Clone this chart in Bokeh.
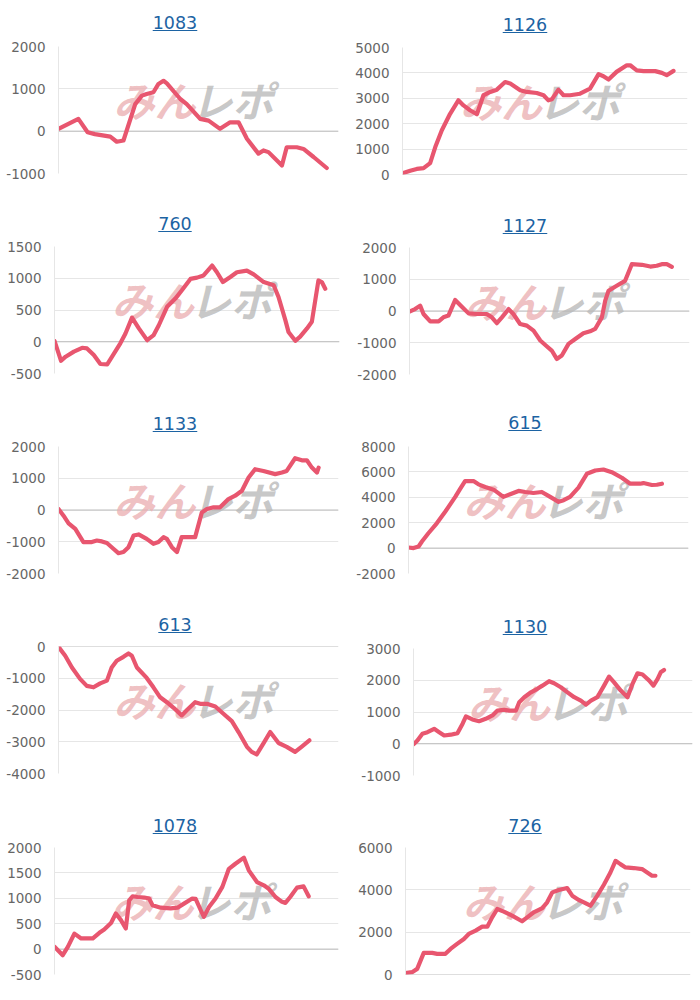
from bokeh.plotting import figure
from bokeh.layouts import column, row
from bokeh.models import Div, Range1d, FixedTicker, Span
from bokeh.core.properties import value
from bokeh.embed import file_html
from bokeh.resources import INLINE

# ---------------- data ----------------
titles = ["1083", "1126", "760", "1127", "1133", "615", "613", "1130", "1078", "726"]

x_1083 = [0, 7.1, 10.4, 13.0, 18.5, 20.8, 23.2, 27.4, 29.8, 31.5, 33.9, 35.7, 37.5, 38.7, 43.5, 45.8,
          50.6, 53.6, 57.7, 61.3, 64.3, 67.3, 71.4, 73.2, 75.0, 79.8, 81.5, 85.1, 87.5, 91.1, 95.8]
y_1083 = [55, 290, -25, -70, -130, -250, -220, 640, 840, 880, 920, 1115, 1190, 1130, 760, 640,
          290, 250, 55, 210, 210, -180, -530, -455, -495, -810, -380, -380, -420, -610, -870]
ticks_1083 = [-1000, 0, 1000, 2000]

x_1126 = [0, 2.7, 5.0, 7.4, 9.7, 11.5, 13.8, 16.7, 19.6, 21.4, 23.7, 26.1, 28.4, 30.8, 33.1, 36.0,
          37.8, 41.3, 43.6, 47.1, 49.5, 51.2, 52.4, 54.7, 56.5, 58.8, 62.3, 65.8, 68.8, 70.5, 72.3,
          75.1, 78.7, 79.9, 82.2, 84.6, 88.7, 91.0, 92.7, 95.1]
y_1126 = [50, 150, 220, 250, 450, 1080, 1740, 2390, 2920, 2720, 2530, 2370, 3120, 3250, 3340, 3640,
          3580, 3320, 3250, 3210, 3120, 2920, 2960, 3340, 3120, 3120, 3180, 3380, 3950, 3870, 3740,
          4040, 4300, 4300, 4100, 4070, 4070, 4000, 3910, 4080]
ticks_1126 = [0, 1000, 2000, 3000, 4000, 5000]

x_760 = [0, 2.3, 3.9, 6.8, 9.7, 11.4, 13.8, 16.1, 18.5, 20.2, 23.1, 24.9, 27.2, 29.6, 32.5, 34.8,
         36.6, 39.5, 42.4, 44.7, 47.7, 50.0, 52.3, 55.3, 57.0, 59.1, 61.7, 64.0, 67.5, 69.9, 73.4,
         76.9, 78.6, 81.0, 82.1, 84.5, 86.2, 88.6, 90.3, 92.6, 93.8, 95.0]
y_760 = [15, -300, -235, -155, -95, -105, -210, -350, -355, -235, -25, 130, 380, 210, 25, 105,
         260, 550, 680, 810, 990, 1010, 1045, 1200, 1095, 940, 1020, 1095, 1120, 1060, 940,
         890, 705, 340, 155, 15, 80, 210, 315, 965, 940, 835]
ticks_760 = [-500, 0, 500, 1000, 1500]

x_1127 = [0, 2.0, 3.8, 5.0, 7.4, 10.4, 12.1, 13.9, 16.3, 18.7, 21.1, 24.0, 27.6, 29.4, 31.2, 33.0,
          35.4, 37.1, 39.5, 41.9, 44.3, 46.7, 49.0, 50.8, 52.6, 54.4, 56.8, 59.2, 62.1, 64.5, 66.3,
          68.7, 69.9, 71.1, 74.0, 77.0, 79.4, 83.0, 86.0, 88.3, 90.1, 91.9, 93.7]
y_1127 = [-20, 60, 170, -95, -325, -325, -200, -145, 345, 135, -75, -95, -95, -200, -385, -200,
          60, -95, -410, -460, -620, -930, -1110, -1245, -1510, -1400, -1035, -880, -700, -640, -565,
          -200, 325, 640, 795, 950, 1475, 1455, 1400, 1425, 1475, 1475, 1390]
ticks_1127 = [-2000, -1000, 0, 1000, 2000]

x_1133 = [0, 1.8, 3.6, 6.0, 8.9, 11.9, 13.7, 15.5, 17.3, 19.6, 21.4, 23.2, 25.0, 26.8, 28.6, 31.5,
          33.9, 35.7, 37.5, 38.7, 40.5, 42.3, 44.0, 47.0, 48.8, 51.2, 53.0, 55.4, 57.7, 60.7, 63.1,
          65.5, 67.9, 70.2, 73.2, 77.4, 79.8, 81.5, 84.5, 86.9, 88.7, 90.5, 92.3, 92.9]
y_1133 = [30, -180, -420, -595, -1010, -1010, -960, -990, -1040, -1220, -1360, -1325, -1170, -805, -770, -910,
          -1065, -1010, -855, -910, -1170, -1325, -855, -855, -855, -75, 30, 85, 85, 345, 450,
          605, 1025, 1285, 1230, 1130, 1180, 1230, 1630, 1565, 1565, 1335, 1180, 1335]
ticks_1133 = [-2000, -1000, 0, 1000, 2000]

x_615 = [0, 1.8, 3.6, 4.8, 7.1, 10.1, 13.1, 16.7, 18.5, 20.2, 23.2, 25.0, 27.4, 30.4, 33.9, 36.3,
         39.3, 41.7, 44.6, 47.6, 50.6, 53.6, 55.4, 57.7, 60.7, 63.7, 66.7, 69.6, 72.6, 76.2, 79.2,
         82.7, 83.9, 86.9, 88.7, 90.5]
y_615 = [50, 0, 130, 520, 1170, 1950, 2860, 4030, 4680, 5280, 5280, 5020, 4810, 4600, 4030, 4240,
         4500, 4420, 4340, 4420, 4030, 3640, 3770, 4030, 4760, 5850, 6110, 6190, 5980, 5540, 5070,
         5070, 5120, 4970, 4990, 5070]
ticks_615 = [-2000, 0, 2000, 4000, 6000, 8000]

x_613 = [0, 2.4, 4.8, 7.7, 10.1, 12.5, 14.9, 17.3, 19.0, 20.8, 23.2, 25.0, 26.2, 28.0, 31.5, 33.9,
         36.3, 38.7, 41.1, 44.0, 45.8, 48.8, 50.6, 53.0, 56.0, 58.9, 61.9, 64.3, 67.3, 69.0, 70.8,
         73.2, 75.6, 78.6, 81.5, 84.5, 86.9, 89.6]
y_613 = [-10, -290, -660, -1020, -1240, -1285, -1160, -1075, -660, -450, -325, -220, -290, -660, -990, -1285,
         -1600, -1755, -1930, -2170, -2010, -1755, -1805, -1805, -1890, -2120, -2350, -2695, -3160, -3320, -3400,
         -3050, -2695, -3040, -3160, -3320, -3150, -2955]
ticks_613 = [-4000, -3000, -2000, -1000, 0]

x_1130 = [0, 1.4, 3.2, 5.0, 7.4, 9.2, 11.0, 13.4, 15.8, 17.6, 18.8, 21.1, 23.5, 25.9, 28.3, 30.1,
          32.5, 34.3, 36.7, 37.9, 39.7, 42.1, 44.4, 46.2, 48.6, 50.4, 52.8, 55.2, 57.6, 60.0, 61.8,
          63.6, 65.9, 68.3, 70.1, 71.9, 74.3, 76.7, 78.5, 80.3, 82.1, 84.5, 86.0, 87.5, 88.6, 89.8]
y_1130 = [-20, 105, 315, 365, 470, 365, 260, 285, 335, 630, 860, 765, 710, 785, 890, 1045,
          1070, 1045, 1045, 1310, 1465, 1620, 1730, 1830, 1970, 1905, 1780, 1620, 1465, 1360, 1235,
          1360, 1465, 1830, 2115, 1935, 1675, 1465, 1885, 2220, 2180, 1990, 1830, 2040, 2250, 2325]
ticks_1130 = [-1000, 0, 1000, 2000, 3000]

x_1078 = [0, 2.9, 4.7, 7.0, 9.4, 11.7, 13.5, 15.8, 17.5, 19.9, 21.6, 23.4, 25.1, 26.3, 27.5, 29.2,
          31.6, 33.3, 34.5, 37.4, 40.9, 43.3, 45.6, 48.5, 49.7, 51.5, 52.6, 54.4, 56.7, 59.1, 61.4,
          63.7, 66.7, 68.4, 71.3, 73.7, 75.4, 77.8, 80.1, 81.3, 83.0, 85.4, 87.7, 89.5]
y_1078 = [45, -120, 45, 305, 210, 210, 210, 320, 385, 515, 700, 570, 405, 960, 1040, 1025,
          1015, 995, 865, 815, 800, 815, 895, 995, 990, 765, 635, 830, 995, 1225, 1580,
          1680, 1800, 1550, 1320, 1255, 1190, 1025, 930, 910, 1025, 1210, 1235, 1040]
ticks_1078 = [-500, 0, 500, 1000, 1500, 2000]

x_726 = [0, 2.3, 4.1, 6.4, 9.4, 11.1, 14.0, 15.8, 18.1, 20.5, 22.2, 24.6, 26.9, 28.7, 30.4, 32.2,
         34.5, 37.4, 40.9, 42.7, 45.0, 48.0, 49.7, 51.5, 53.8, 56.7, 58.5, 60.8, 62.6, 64.9, 67.3,
         69.6, 71.9, 73.7, 75.4, 77.2, 80.1, 83.0, 84.8, 86.5, 87.7]
y_726 = [65, 110, 265, 1020, 1020, 975, 975, 1210, 1445, 1680, 1915, 2075, 2260, 2260, 2700, 3095,
         2970, 2780, 2515, 2700, 2940, 3140, 3410, 3880, 3990, 4085, 3725, 3520, 3410, 3250, 3725,
         4240, 4820, 5370, 5215, 5060, 5030, 4980, 4820, 4665, 4665]
ticks_726 = [0, 2000, 4000, 6000]

series = {
    "1083": (x_1083, y_1083, ticks_1083),
    "1126": (x_1126, y_1126, ticks_1126),
    "760": (x_760, y_760, ticks_760),
    "1127": (x_1127, y_1127, ticks_1127),
    "1133": (x_1133, y_1133, ticks_1133),
    "615": (x_615, y_615, ticks_615),
    "613": (x_613, y_613, ticks_613),
    "1130": (x_1130, y_1130, ticks_1130),
    "1078": (x_1078, y_1078, ticks_1078),
    "726": (x_726, y_726, ticks_726),
}

# ---------------- layout / style ----------------
LINE_COLOR = "#e8566f"
GRID_COLOR = "#e6e6e6"
ZERO_COLOR = "#bdbdbd"
TICK_COLOR = "#666666"
TITLE_COLOR = "#1c63a3"
PINK_WM = "#ebb0b3"
GRAY_WM = "#b9b9b9"
FIG_W = 350

# per panel: (min_border left, right, top, bottom, title pad-top)
layout_cfg = {
    "1083": (58, 12, 8, 27, 13),
    "1126": (52, 13, 9, 26, 15),
    "760": (54, 11, 8, 27, 14),
    "1127": (59, 11, 9, 26, 16),
    "1133": (58, 12, 8, 27, 14),
    "615": (58, 12, 8, 27, 13),
    "613": (58, 12, 8, 27, 15),
    "1130": (63, 8, 10, 25, 17),
    "1078": (54, 12, 9, 14, 16),
    "726": (55, 10, 9, 14, 16),
}


def make_panel(name, div_h):
    xs, ys, ticks = series[name]
    ml, mr, mt, mb, pad = layout_cfg[name]
    lo, hi = ticks[0], ticks[-1]
    fh = mt + 127 + mb
    p = figure(width=FIG_W, height=fh, x_range=Range1d(0, 100), y_range=Range1d(lo, hi),
               output_backend="svg", toolbar_location=None, x_axis_location=None,
               min_border_left=ml, min_border_right=mr, min_border_top=mt, min_border_bottom=mb,
               margin=(0, 0, 0, 0))
    p.outline_line_color = None
    p.background_fill_color = "white"
    p.border_fill_color = "white"
    for g in p.xgrid:
        g.visible = False
    ax = p.yaxis[0]
    ax.ticker = FixedTicker(ticks=ticks)
    ax.major_label_overrides = {t: str(t) for t in ticks}
    ax.major_tick_line_color = None
    ax.minor_tick_line_color = None
    ax.major_tick_out = 0
    ax.major_tick_in = 0
    ax.major_label_standoff = 13
    ax.axis_line_color = GRID_COLOR
    ax.major_label_text_font = "DejaVu Sans"
    ax.major_label_text_font_size = "13.5px"
    ax.major_label_text_color = TICK_COLOR
    p.ygrid.ticker = FixedTicker(ticks=ticks)
    p.ygrid.grid_line_color = GRID_COLOR
    if lo <= 0 <= hi:
        p.add_layout(Span(location=0, dimension="width", line_color=ZERO_COLOR,
                          line_width=1, level="underlay"))
    # watermark
    wy = hi - 0.415 * (hi - lo)
    p.text(x=[50], y=[wy], text=["みん"], text_align="right", text_baseline="middle",
           x_offset=-3, text_font=value("Noto Sans CJK JP"), text_font_size="41px",
           text_font_style="bold italic", text_color=PINK_WM, text_alpha=0.8)
    p.text(x=[50], y=[wy], text=["レポ"], text_align="left", text_baseline="middle",
           x_offset=-7, text_font=value("Noto Sans CJK JP"), text_font_size="41px",
           text_font_style="bold italic", text_color=GRAY_WM, text_alpha=0.8)
    p.line(xs, ys, line_color=LINE_COLOR, line_width=4.2, line_join="round", line_cap="round")

    html = (f'<div style="width:{FIG_W}px;text-align:center;padding-top:{pad}px;'
            f'font-family:\'DejaVu Sans\';font-size:17.5px;line-height:20px;">'
            f'<a href="#" style="color:{TITLE_COLOR};text-decoration:underline;">{name}</a></div>')
    d = Div(text=html, width=FIG_W, height=div_h, margin=(0, 0, 0, 0))
    return column(d, p, spacing=0, margin=(0, 0, 0, 0))


rows = []
for i in range(5):
    left = make_panel(titles[2 * i], 38)
    right = make_panel(titles[2 * i + 1], 38)
    rows.append(row(left, right, spacing=0, margin=(0, 0, 0, 0)))

layout = column(*rows, spacing=0, margin=(0, 0, 0, 0))

open("out.html", "w").write(file_html(layout, INLINE))
